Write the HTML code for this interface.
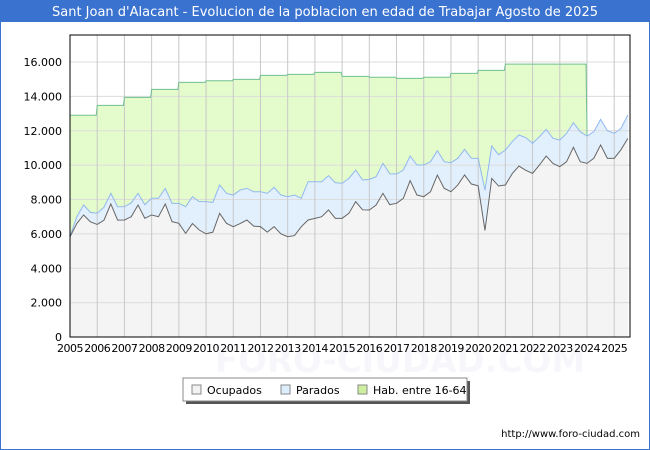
<!DOCTYPE html>
<html><head><meta charset="utf-8"><style>
body{margin:0;width:650px;height:450px;overflow:hidden;background:#fff;font-family:"DejaVu Sans","Liberation Sans",sans-serif}
svg{display:block}
</style></head><body>
<svg id="c" width="650" height="450" xmlns="http://www.w3.org/2000/svg">
<rect x="0" y="0" width="650" height="450" fill="#fff" stroke="#3a72d0" stroke-width="2"/>
<rect x="0" y="0" width="650" height="22" fill="#3a72d0"/>
<text x="325" y="16" text-anchor="middle" fill="#fff" font-size="13">Sant Joan d'Alacant - Evolucion de la poblacion en edad de Trabajar Agosto de 2025</text>
<text x="400" y="372" text-anchor="middle" fill="#f7f7fb" font-size="34" font-weight="bold">FORO-CIUDAD.COM</text>
<g id="plot"></g>
<g>
<rect x="186" y="381" width="284" height="23" fill="#555"/>
<rect x="183" y="378" width="284" height="23" fill="#fff" stroke="#888"/>
<rect x="192" y="385" width="9" height="9" fill="#f2f2f2" stroke="#888"/>
<text x="207" y="394" font-size="11">Ocupados</text>
<rect x="281" y="385" width="9" height="9" fill="#ddeeff" stroke="#888"/>
<text x="296" y="394" font-size="11">Parados</text>
<rect x="358" y="385" width="9" height="9" fill="#ccf0a0" stroke="#888"/>
<text x="373" y="394" font-size="11">Hab. entre 16-64</text>
</g>
<text x="640" y="437" text-anchor="end" font-size="10">http://www.foro-ciudad.com</text>
</svg>
<script>
const years=[2005,2006,2007,2008,2009,2010,2011,2012,2013,2014,2015,2016,2017,2018,2019,2020,2021,2022,2023,2024,2025];
const habYears=[2005,2006,2007,2008,2009,2010,2011,2012,2013,2014,2015,2016,2017,2018,2019,2020,2021,2022,2023];
const habValues=[12900,13480,13945,14410,14815,14910,14990,15220,15280,15400,15165,15110,15050,15110,15340,15515,15880,15880,15880];
const ocupados=[5835,6600,7100,6700, 6550,6800,7740,6800, 6807,7000,7680,6904, 7100,7000,7740,6710, 6614,6030,6600,6225, 6000,6100,7196,6614, 6419,6600,6807,6450, 6419,6100,6419,6000, 5835,5900,6419,6807, 6904,7000,7390,6904, 6904,7196,7875,7400, 7390,7680,8357,7700, 7778,8070,9095,8260, 8163,8454,9424,8650, 8454,8840,9424,8900, 8800,6200,9230,8784, 8842,9500,9948,9700, 9521,10000,10530,10100, 9909,10200,11035,10200, 10103,10400,11170,10394, 10394,10900,11558];
const totalParados=[5835,7000,7680,7250, 7200,7550,8357,7580, 7584,7800,8357,7700, 8070,8070,8648,7778, 7778,7584,8163,7875, 7875,7830,8842,8357, 8260,8550,8648,8450, 8454,8357,8706,8260, 8163,8260,8070,9036, 9036,9036,9386,8980, 8940,9230,9715,9134, 9172,9327,10103,9500, 9483,9715,10530,10006, 10006,10200,10840,10200, 10142,10394,10918,10400, 10390,8550,11112,10600, 10880,11364,11752,11600, 11270,11650,12081,11558, 11461,11848,12469,11945, 11693,11945,12663,12003, 11848,12139,12915];
const yTicks=[0,2000,4000,6000,8000,10000,12000,14000,16000];
const yTickLabels=["0","2.000","4.000","6.000","8.000","10.000","12.000","14.000","16.000"];

const X0=70,X1=630,Y0=337,YT=35,T0=2005,T1=2025.58;
const xs=t=>X0+(t-T0)/(T1-T0)*(X1-X0);
const ys=v=>Y0-v/16000*(Y0-62);
const tOf=i=>T0+i*0.25;
const NS='http://www.w3.org/2000/svg';
const g=document.getElementById('plot');
function mk(tag,attrs){const e=document.createElementNS(NS,tag);for(const k in attrs)e.setAttribute(k,attrs[k]);g.appendChild(e);return e;}

let hp=[];
habYears.forEach((y,i)=>{hp.push(xs(y)+','+ys(habValues[i]));hp.push(xs(y+1)-1+','+ys(habValues[i]));});
const lastHab=habYears[habYears.length-1]+1;
const habArea=mk('polygon',{points:hp.join(' ')+' '+xs(lastHab)+','+Y0+' '+xs(T0)+','+Y0,fill:'#e4fccc'});


const tp=totalParados.map((v,i)=>xs(tOf(i))+','+ys(v));
const lastT=tOf(totalParados.length-1);
const parArea=mk('polygon',{points:tp.join(' ')+' '+xs(lastT)+','+Y0+' '+xs(T0)+','+Y0,fill:'#e2f0fe'});


const op=ocupados.map((v,i)=>xs(tOf(i))+','+ys(v));
const ocArea=mk('polygon',{points:op.join(' ')+' '+xs(tOf(ocupados.length-1))+','+Y0+' '+xs(T0)+','+Y0,fill:'#f4f4f4'});



yTicks.forEach((v,i)=>{
  const l=mk('line',{x1:X0,x2:X1,y1:ys(v),y2:ys(v),stroke:'#dcdcdc','stroke-width':1});
  
  
  const t=mk('text',{x:X0-8,y:ys(v)+4,'text-anchor':'end','font-size':11});
  
  
  t.textContent=yTickLabels[i];
});
years.forEach(y=>{
  const l=mk('line',{x1:xs(y),x2:xs(y),y1:YT,y2:Y0,stroke:'#c8c8c8','stroke-width':1});
  
  
  const t=mk('text',{x:xs(y),y:Y0+15,'text-anchor':'middle','font-size':11,'letter-spacing':'-0.5'});
  
  
  t.textContent=y;
});

hp.push(xs(lastHab)+','+ys(totalParados[Math.round((lastHab-T0)*4)]));
const hl=mk('polyline',{points:hp.join(' '),fill:'none',stroke:'#70c090','stroke-width':1});


const pl=mk('polyline',{points:tp.join(' '),fill:'none',stroke:'#90b8ee','stroke-width':1});


const ol=mk('polyline',{points:op.join(' '),fill:'none',stroke:'#666','stroke-width':1});



const bx=mk('rect',{x:X0,y:YT,width:X1-X0,height:Y0-YT,fill:'none',stroke:'#000','stroke-width':1});


</script>
</body></html>
